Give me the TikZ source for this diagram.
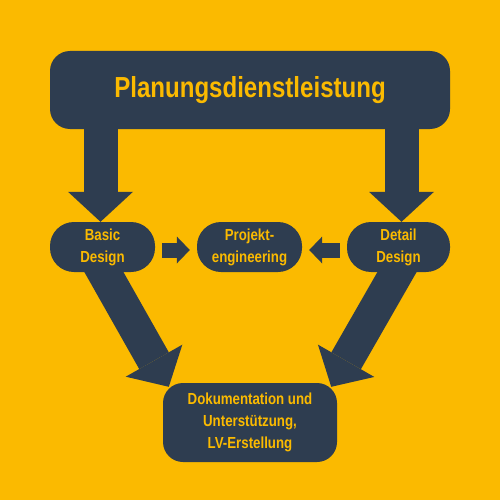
\documentclass[tikz,border=0pt]{standalone}
\usepackage{fontspec}
\usepackage{tikz}
\usetikzlibrary{arrows.meta}
\newfontfamily\condfont{Liberation Sans}[FakeStretch=0.83]
\definecolor{cyellow}{HTML}{FBBA00}
\definecolor{cnavy}{HTML}{2E3D50}
\pgfdeclarelayer{background}
\pgfsetlayers{background,main}

\begin{document}
\begin{tikzpicture}[x=1pt, y=-1pt,
  box/.style={fill=cnavy, text=cyellow, rounded corners=20pt, inner sep=0pt, align=center,
    font=\condfont\bfseries\fontsize{16}{22}\selectfont},
  bigarrow/.style={cnavy, line width=34pt, -{Triangle[length=30pt, width=65pt, line width=0pt]}},
  smallarrow/.style={cnavy, line width=15pt, -{Triangle[length=13pt, width=27pt, line width=0pt]},
    shorten <=7pt, shorten >=7pt}]
  \begin{pgfonlayer}{background}
    \fill[cyellow] (0,0) rectangle (500,500);
  \end{pgfonlayer}

  % Boxes
  \node[box, minimum width=400pt, minimum height=78pt, font=\condfont\bfseries\fontsize{29}{30}\selectfont]
    (plan) at (250,90) {Planungsdienstleistung};
  \node[box, rounded corners=24pt, minimum width=105pt, minimum height=50pt] (basic) at (102.5,247) {Basic\\Design};
  \node[box, rounded corners=24pt, minimum width=105pt, minimum height=50pt] (proj) at (249.5,247) {Projekt-\\engineering};
  \node[box, rounded corners=24pt, minimum width=103pt, minimum height=50pt] (detail) at (398.5,247) {Detail\\Design};
  \node[box, minimum width=174pt, minimum height=79pt] (docu) at (250,422.5)
    {Dokumentation und\\Unterstützung,\\LV-Erstellung};

  % Arrows behind the boxes
  \begin{pgfonlayer}{background}
    \draw[bigarrow] ([xshift=-2pt]basic.north |- plan.center) -- ([xshift=-2pt]basic.north);
    \draw[bigarrow] ([xshift=3pt]detail.north |- plan.center) -- ([xshift=3pt]detail.north);
    \draw[bigarrow] ([xshift=-6pt, yshift=-12pt]basic.center) -- ([xshift=6pt, yshift=-4pt]docu.north west);
    \draw[bigarrow] ([xshift=6pt, yshift=-12pt]detail.center) -- ([xshift=-6pt, yshift=-4pt]docu.north east);
    \draw[smallarrow] ([yshift=-3pt]basic.east) -- ([yshift=-3pt]proj.west);
    \draw[smallarrow] ([yshift=-3pt]detail.west) -- ([yshift=-3pt]proj.east);
  \end{pgfonlayer}
\end{tikzpicture}
\end{document}
